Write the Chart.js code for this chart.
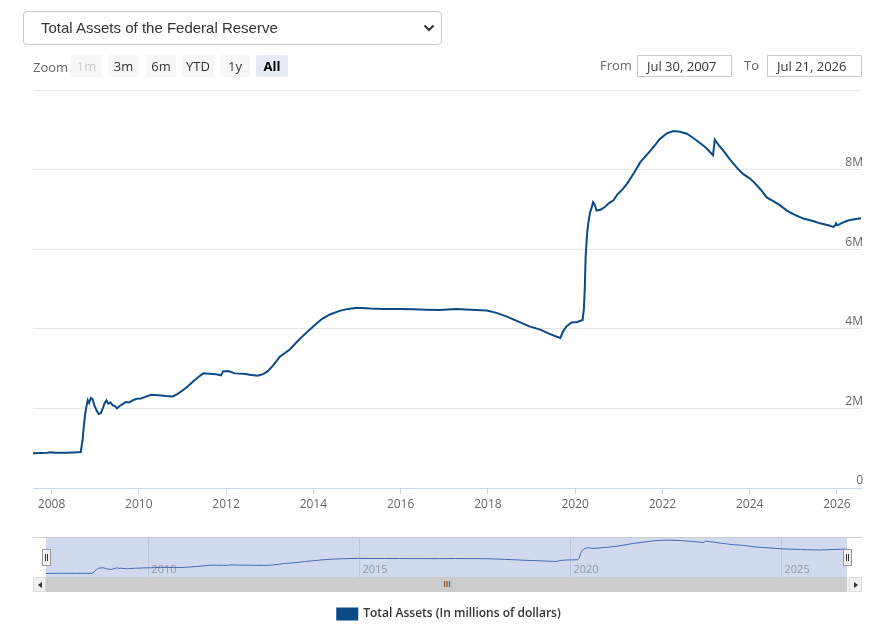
<!DOCTYPE html>
<html lang="en">
<head>
  <meta charset="UTF-8">
  <title>Total Assets of the Federal Reserve</title>
  <style>
    body { margin: 0; width: 889px; height: 630px; position: relative; overflow: hidden; background: #fff; font-family: "Open Sans", Arial, sans-serif; }
    canvas { position: absolute; left: 0; }
    #main { top: 0; }
    #nav { top: 530px; }
    .sel { position: absolute; left: 23px; top: 11px; width: 419px; height: 34px; box-sizing: border-box; border: 1px solid #c8c8c8; border-radius: 4px; font-family: "Liberation Sans", Arial, sans-serif; font-size: 15px; color: #333; line-height: 32px; padding-left: 17px; }
    .sel svg { position: absolute; right: 6px; top: 12px; }
    .lbl { position: absolute; font-size: 13px; color: #666; line-height: 22px; }
    .btn { position: absolute; top: 55px; height: 22px; line-height: 22px; font-size: 13px; text-align: center; background: #f7f7f7; color: #333; border-radius: 2px; }
    .btn.dis { color: #cccccc; }
    .btn.on { background: #e6ebf5; color: #000; font-weight: 700; }
    .inp { position: absolute; top: 55px; height: 22px; width: 95px; box-sizing: border-box; border: 1px solid #ccc; font-size: 13px; color: #333; line-height: 20px; padding-left: 9px; }
    .navtop { position: absolute; left: 33px; top: 537px; width: 829px; height: 1px; background: #cccccc; }
    .handle { position: absolute; top: 549px; width: 7px; height: 15px; background: #f2f2f2; border: 1px solid #999; }
    .handle::before, .handle::after { content: ""; position: absolute; top: 4px; width: 1px; height: 7px; background: #333; }
    .handle::before { left: 2px; }
    .handle::after { left: 4px; }
    .track { position: absolute; left: 33px; top: 577px; width: 829px; height: 15px; background: #f2f2f2; }
    .bar { position: absolute; left: 46px; top: 577px; width: 801px; height: 15px; background: #cccccc; }
    .rifle { position: absolute; left: 441px; top: 577px; width: 12px; height: 15px; font-size: 9px; line-height: 15px; color: #333; text-align: center; letter-spacing: 0px; font-family: "Liberation Sans", Arial; }
    .sbtn { position: absolute; top: 577px; width: 13px; height: 15px; background: #f0f0f0; border: 1px solid #ddd; box-sizing: border-box; }
    .sbtn svg { position: absolute; left: 3px; top: 3px; }
  </style>
</head>
<body>
  <canvas id="main" width="889" height="630"></canvas>
  <canvas id="nav" width="889" height="50"></canvas>

  <div class="sel">Total Assets of the Federal Reserve
    <svg width="12" height="8" viewBox="0 0 12 8"><polyline points="1.5,1.5 6,6 10.5,1.5" fill="none" stroke="#333" stroke-width="2"/></svg>
  </div>
  <div class="lbl" style="left:33px; top:56px;">Zoom</div>
  <div class="btn dis" style="left:71px; width:31px;">1m</div>
  <div class="btn" style="left:108px; width:31px;">3m</div>
  <div class="btn" style="left:146px; width:30px;">6m</div>
  <div class="btn" style="left:182px; width:32px;">YTD</div>
  <div class="btn" style="left:220px; width:30px;">1y</div>
  <div class="btn on" style="left:256px; width:32px;">All</div>
  <div class="lbl" style="left:600px; top:54px;">From</div>
  <div class="inp" style="left:637px;">Jul 30, 2007</div>
  <div class="lbl" style="left:744px; top:54px;">To</div>
  <div class="inp" style="left:767px;">Jul 21, 2026</div>

  <div class="navtop"></div>
  <div class="track"></div>
  <div class="bar"></div>
  <div class="rifle">III</div>
  <div class="sbtn" style="left:33px;"><svg width="6" height="8"><polygon points="5,1 1,4 5,7" fill="#333"/></svg></div>
  <div class="sbtn" style="left:849px;"><svg width="6" height="8"><polygon points="1,1 5,4 1,7" fill="#333"/></svg></div>
  <div class="handle" style="left:42px;"></div>
  <div class="handle" style="left:843px;"></div>

  <script src="https://cdn.jsdelivr.net/npm/chart.js"></script>
  <script>
    // weekly readings, decimal year -> total assets (millions of dollars)
    const years = [
      2007.575, 2007.75, 2007.9, 2007.99, 2008.1, 2008.3, 2008.5, 2008.67, 2008.71, 2008.74,
      2008.77, 2008.80, 2008.83, 2008.86, 2008.90, 2008.94, 2008.98, 2009.03, 2009.08, 2009.13,
      2009.18, 2009.22, 2009.26, 2009.30, 2009.35, 2009.40, 2009.46, 2009.50, 2009.56, 2009.62,
      2009.70, 2009.78, 2009.86, 2009.95, 2010.05, 2010.15, 2010.28, 2010.45, 2010.62, 2010.78,
      2010.88, 2011.00, 2011.12, 2011.25, 2011.38, 2011.48, 2011.62, 2011.78, 2011.88, 2011.93,
      2012.05, 2012.20, 2012.40, 2012.58, 2012.72, 2012.85, 2012.95, 2013.08, 2013.23, 2013.46,
      2013.70, 2013.99, 2014.20, 2014.38, 2014.60, 2014.80, 2015.00, 2015.30, 2015.60, 2015.95,
      2016.30, 2016.60, 2016.90, 2017.28, 2017.60, 2017.97, 2018.20, 2018.45, 2018.70, 2018.95,
      2019.20, 2019.40, 2019.58, 2019.66, 2019.72, 2019.80, 2019.92, 2020.05, 2020.17, 2020.20,
      2020.22, 2020.24, 2020.27, 2020.30, 2020.34, 2020.38, 2020.41, 2020.45, 2020.49, 2020.58,
      2020.68, 2020.79, 2020.88, 2020.97, 2021.10, 2021.20, 2021.35, 2021.49, 2021.60, 2021.72,
      2021.84, 2021.94, 2022.10, 2022.25, 2022.40, 2022.56, 2022.70, 2022.86, 2023.00, 2023.16,
      2023.20, 2023.30, 2023.40, 2023.55, 2023.72, 2023.86, 2024.00, 2024.10, 2024.25, 2024.39,
      2024.55, 2024.70, 2024.85, 2025.00, 2025.23, 2025.45, 2025.61, 2025.80, 2025.92, 2025.96,
      2025.98, 2026.01, 2026.12, 2026.25, 2026.40, 2026.551
    ];
    const assets = [
      870000, 880000, 885000, 895000, 885000, 885000, 895000, 905000, 1200000, 1550000,
      1850000, 2050000, 2210000, 2140000, 2260000, 2230000, 2080000, 1950000, 1860000, 1880000,
      2020000, 2140000, 2200000, 2120000, 2150000, 2080000, 2050000, 2000000, 2060000, 2100000,
      2160000, 2150000, 2200000, 2240000, 2250000, 2290000, 2340000, 2330000, 2310000, 2300000,
      2360000, 2450000, 2550000, 2680000, 2800000, 2880000, 2870000, 2860000, 2830000, 2930000,
      2940000, 2880000, 2870000, 2840000, 2820000, 2860000, 2930000, 3080000, 3300000, 3480000,
      3760000, 4050000, 4250000, 4360000, 4450000, 4500000, 4530000, 4510000, 4500000, 4500000,
      4490000, 4480000, 4470000, 4500000, 4480000, 4460000, 4400000, 4300000, 4180000, 4060000,
      3980000, 3880000, 3800000, 3770000, 3930000, 4060000, 4160000, 4170000, 4220000, 4500000,
      5000000, 5800000, 6350000, 6650000, 6920000, 7050000, 7180000, 7110000, 6970000, 6990000,
      7060000, 7170000, 7230000, 7380000, 7520000, 7660000, 7920000, 8180000, 8320000, 8470000,
      8630000, 8770000, 8910000, 8970000, 8950000, 8900000, 8800000, 8670000, 8550000, 8360000,
      8750000, 8600000, 8470000, 8250000, 8030000, 7880000, 7780000, 7680000, 7500000, 7300000,
      7200000, 7100000, 6970000, 6880000, 6770000, 6710000, 6650000, 6600000, 6560000, 6600000,
      6650000, 6600000, 6660000, 6720000, 6750000, 6780000
    ];
    const seriesName = 'Total Assets (In millions of dollars)';
    const xTicks = [2008, 2010, 2012, 2014, 2016, 2018, 2020, 2022, 2024, 2026];
    const navTicks = [2010, 2015, 2020, 2025];
    const yTicks = [0, 2000000, 4000000, 6000000, 8000000, 10000000];
    const fromYear = 2007.575;
    const toYear = 2026.551;

    const points = years.map((y, i) => ({ x: y, y: assets[i] }));

    new Chart(document.getElementById('main'), {
      type: 'line',
      data: {
        datasets: [{
          label: seriesName,
          data: points,
          borderColor: '#0a4a86',
          backgroundColor: '#0a4a86',
          borderWidth: 2,
          pointRadius: 0,
          tension: 0
        }]
      },
      options: {
        responsive: false,
        animation: false,
        events: [],
        layout: { padding: { left: 33, right: 24, top: 90, bottom: 0 } },
        plugins: {
          tooltip: { enabled: false },
          legend: {
            position: 'bottom',
            labels: {
              boxWidth: 20,
              boxHeight: 11,
              padding: 10,
              color: '#333',
              font: { family: 'Open Sans', size: 12, weight: '600' }
            }
          }
        },
        scales: {
          x: {
            type: 'linear',
            min: fromYear,
            max: toYear,
            afterBuildTicks: s => { s.ticks = xTicks.map(v => ({ value: v })); },
            afterFit: s => { s.height = 110; },
            grid: { drawOnChartArea: false, drawTicks: true, tickLength: 6, color: '#ccd6eb' },
            border: { color: '#ccd6eb' },
            ticks: {
              padding: 3,
              color: '#666',
              font: { family: 'Open Sans', size: 12 },
              maxRotation: 0,
              callback: v => String(v)
            }
          },
          y: {
            position: 'right',
            min: 0,
            max: 10000000,
            afterBuildTicks: s => { s.ticks = yTicks.map(v => ({ value: v })); },
            grid: { color: '#e6e6e6', drawTicks: false },
            border: { display: false },
            ticks: {
              mirror: true,
              padding: 2,
              labelOffset: -7,
              color: '#666',
              font: { family: 'Open Sans', size: 12 },
              callback: v => v === 10000000 ? '' : (v === 0 ? '0' : (v / 1000000) + 'M')
            }
          }
        }
      }
    });

    const maskFill = {
      id: 'maskFill',
      beforeDraw(chart) {
        const a = chart.chartArea;
        const ctx = chart.ctx;
        ctx.save();
        ctx.fillStyle = 'rgba(102,133,194,0.3)';
        ctx.fillRect(a.left, a.top, a.right - a.left, a.bottom - a.top);
        ctx.restore();
      }
    };

    new Chart(document.getElementById('nav'), {
      type: 'line',
      data: {
        datasets: [{
          label: seriesName,
          data: points,
          borderColor: '#4268b3',
          borderWidth: 1,
          pointRadius: 0,
          tension: 0
        }]
      },
      options: {
        responsive: false,
        animation: false,
        events: [],
        layout: { padding: { left: 46, right: 42, top: 8, bottom: 1 } },
        plugins: { legend: { display: false }, tooltip: { enabled: false } },
        scales: {
          x: {
            type: 'linear',
            min: fromYear,
            max: toYear,
            afterBuildTicks: s => { s.ticks = navTicks.map(v => ({ value: v })); },
            grid: { color: '#bfc6db', drawTicks: false },
            border: { display: false },
            ticks: {
              mirror: true,
              padding: 1,
              align: 'start',
              labelOffset: 3,
              maxRotation: 0,
              color: '#8f96a8',
              font: { family: 'Open Sans', size: 11 },
              callback: v => String(v)
            }
          },
          y: { display: false, min: 0, max: 9500000 }
        }
      },
      plugins: [maskFill]
    });
  </script>
</body>
</html>
